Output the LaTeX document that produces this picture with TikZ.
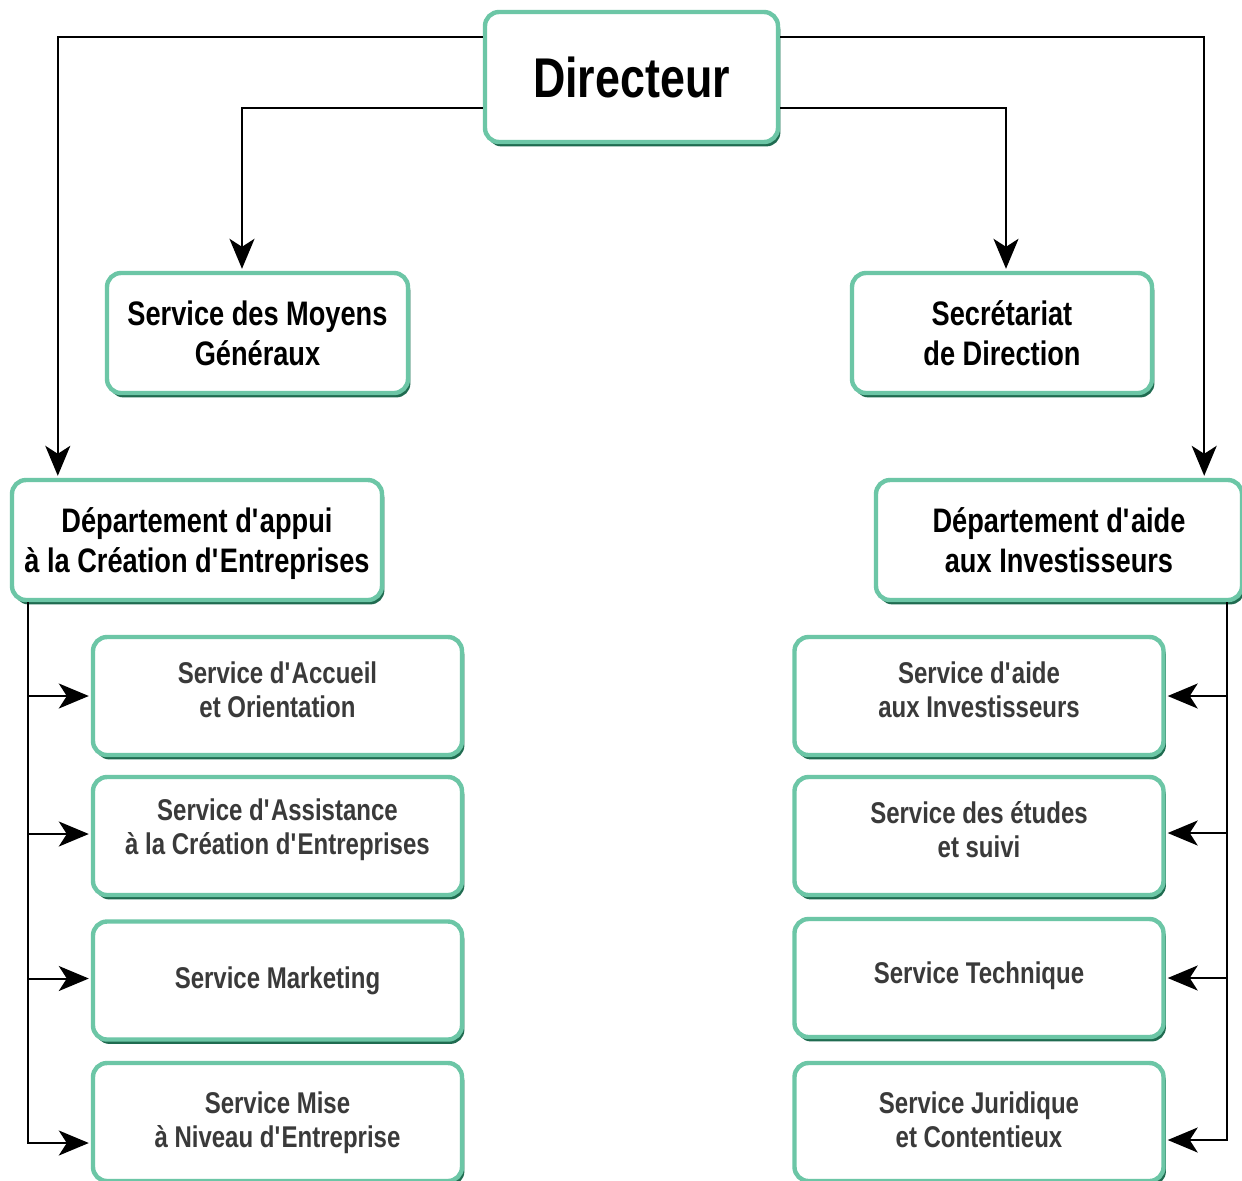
\documentclass[tikz,border=0pt]{standalone}
\usepackage{fontspec}
\setmainfont[FakeStretch=0.8]{Liberation Sans}
\usetikzlibrary{arrows.meta,shadows}
\definecolor{tealA}{HTML}{6CC6A6}
\definecolor{tealB}{HTML}{1F6B50}
\definecolor{txtgrey}{HTML}{3A3A3A}
\newcommand\ap{\textquotesingle}
\newcommand\nodepth[1]{\raisebox{0pt}[\height][0pt]{#1}}
\tikzset{
  box/.style={draw=tealA, line width=2.2pt, rounded corners=7pt, fill=white,
    align=center, inner sep=0pt, font=\bfseries,
    drop shadow={shadow xshift=1.2pt, shadow yshift=-2.2pt, fill=tealB, opacity=1}},
  topbox/.style={box, font=\bfseries\fontsize{17}{20}\selectfont, text=black},
  svcbox/.style={box, minimum width=184.5pt, minimum height=59pt},
  svctext/.style={align=center, inner sep=0pt, text=txtgrey,
    font=\bfseries\fontsize{15}{17}\selectfont},
  arr/.style={line width=1pt, shorten >=1pt, -{Stealth[length=15pt,width=12.5pt,inset=4pt]}}
}
% name, centre, text shift, text
\newcommand\svcnode[4]{%
  \node[svcbox] (#1) at (#2) {};
  \node[svctext] (#1t) at ([yshift=#3]#1.center) {#4};}
\begin{document}
\begin{tikzpicture}[x=0.5pt,y=-0.5pt]
\useasboundingbox (0,0) rectangle (1242,1180);
\clip (0,0) rectangle (1242,1180);
\fill[white] (0,0) rectangle (1242,1180);

\node[box, minimum width=146.5pt, minimum height=65pt, font=\bfseries\fontsize{28}{32}\selectfont] (dir) at (631.5,77) {Directeur};
\node[topbox, minimum width=150.5pt, minimum height=60pt] (sm) at (257.5,333) {Service des Moyens\\Généraux};
\node[topbox, minimum width=150pt, minimum height=60pt] (sec) at (1002,333) {Secrétariat\\de Direction};
\node[topbox, minimum width=185pt, minimum height=60pt] (dA) at (197,540) {Département d\ap appui\\\nodepth{à la Création d\ap Entreprises}};
\node[topbox, minimum width=183pt, minimum height=60pt] (dB) at (1059,540) {Département d\ap aide\\aux Investisseurs};

\svcnode{l1}{277.5,696}{3pt}{Service d\ap Accueil\\et Orientation}
\svcnode{l2}{277.5,836}{3pt}{Service d\ap Assistance\\à la Création d\ap Entreprises}
\svcnode{l3}{277.5,980.5}{0pt}{Service Marketing}
\svcnode{l4}{277.5,1122}{-0.5pt}{Service Mise\\à Niveau d\ap Entreprise}

\svcnode{r1}{979,696}{3pt}{Service d\ap aide\\aux Investisseurs}
\svcnode{r2}{979,836}{3pt}{Service des études\\et suivi}
\svcnode{r3}{979,978}{1pt}{Service Technique}
\svcnode{r4}{979,1122}{1pt}{Service Juridique\\et Contentieux}

% Director connectors
\draw[arr] ([yshift=20pt]dir.west) -| ([xshift=24pt]dA.north west);
\draw[arr] ([yshift=-15.5pt]dir.west) -| ([xshift=-7.75pt]sm.north);
\draw[arr] ([yshift=-15.5pt]dir.east) -| ([xshift=2pt]sec.north);
\draw[arr] ([yshift=20pt]dir.east) -| ([xshift=-20pt]dB.north east);

% Left spine
\coordinate (lt) at ([xshift=9pt]dA.south west);
\draw[arr] (lt) |- (l1.west);
\draw[arr] (lt) |- ([yshift=1pt]l2.west);
\draw[arr] (lt) |- ([yshift=1pt]l3.west);
\draw[arr] (lt) |- ([yshift=-10.5pt]l4.west);

% Right spine
\coordinate (rt) at ([xshift=-8.5pt]dB.south east);
\draw[arr] (rt) |- (r1.east);
\draw[arr] (rt) |- ([yshift=1.5pt]r2.east);
\draw[arr] (rt) |- (r3.east);
\draw[arr] (rt) |- ([yshift=-9pt]r4.east);
\end{tikzpicture}
\end{document}
